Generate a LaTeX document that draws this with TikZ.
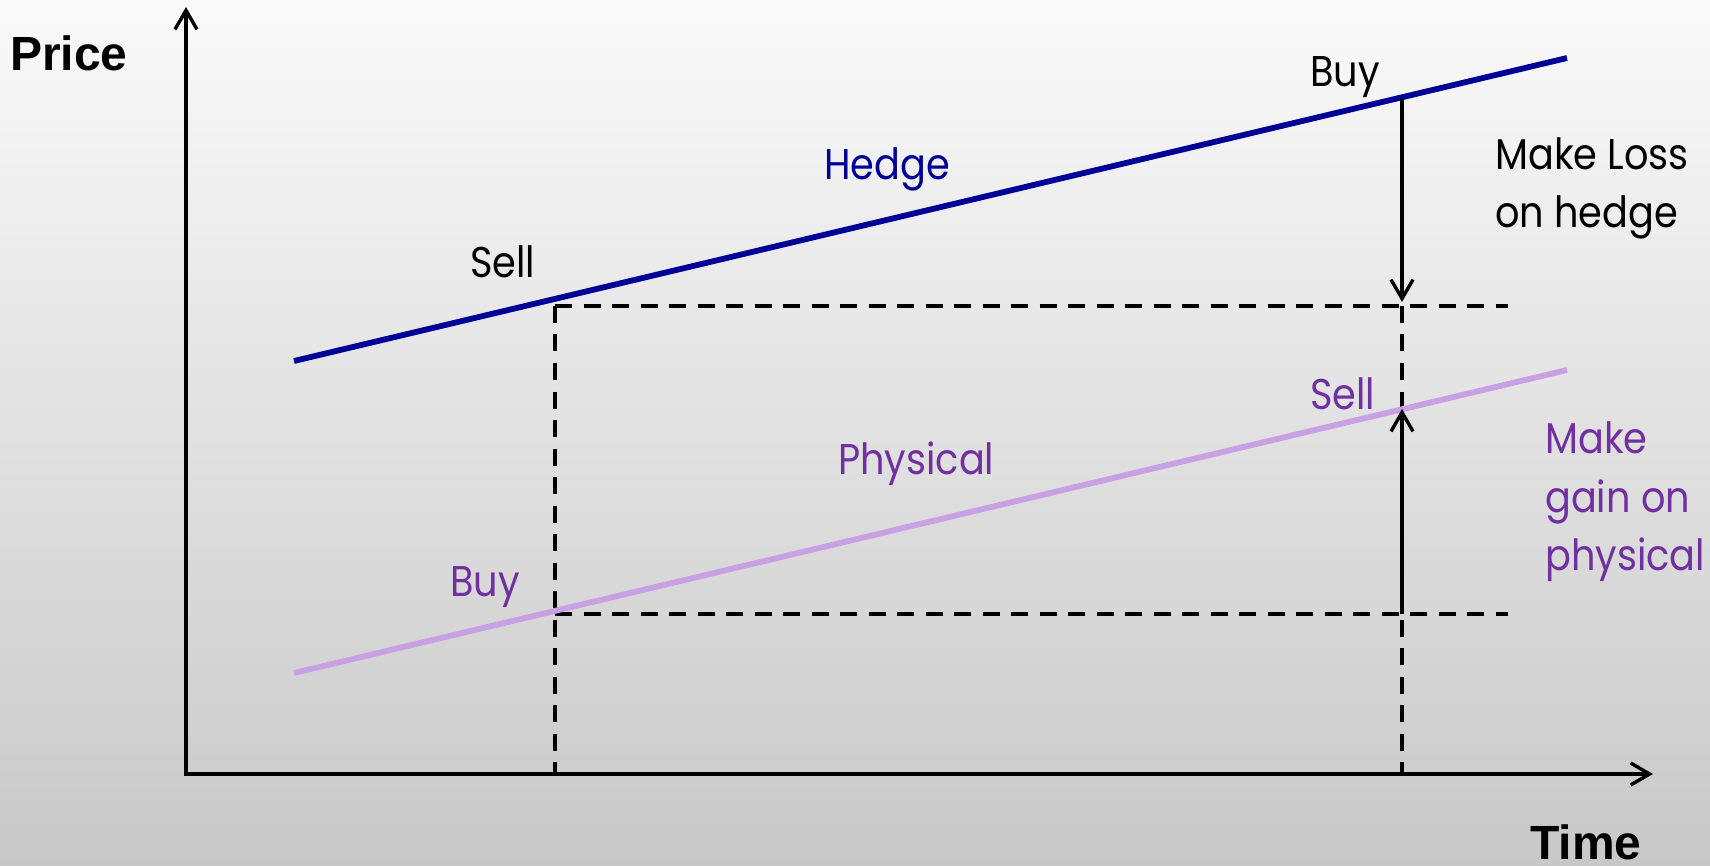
\documentclass[tikz,border=0pt]{standalone}
\usepackage{fontspec}
\setmainfont{Liberation Sans}
\newfontfamily\twfont[FakeStretch=0.89]{Poppins}
\usetikzlibrary{arrows.meta}
\definecolor{hedgeblue}{RGB}{0,0,150}
\definecolor{physline}{RGB}{200,160,228}
\definecolor{purpletext}{RGB}{112,48,160}
\definecolor{bgtop}{RGB}{250,250,250}
\definecolor{bgbottom}{RGB}{200,200,200}
\begin{document}
\begin{tikzpicture}[x=1pt,y=-1pt,
  barb/.style={-{Straight Barb[length=19pt,width=22pt,line width=3.4pt]}},
  axisline/.style={line width=3.4pt},
  guide/.style={line width=3.8pt, dash pattern=on 17pt off 11.5pt},
  hedgeline/.style={line width=5.8pt, hedgeblue},
  physicalline/.style={line width=5.8pt, physline},
  move/.style={line width=3.6pt, barb},
  lbl/.style={inner sep=0pt, anchor=base west, font=\twfont\fontsize{43}{58}\selectfont},
  axislbl/.style={inner sep=0pt, anchor=base west, text depth=0pt, font=\bfseries\fontsize{48}{50}\selectfont}]
\useasboundingbox (0,0) rectangle (1710,866);
\shade[top color=bgtop, bottom color=bgbottom] (0,0) rectangle (1710,866);
% key coordinates
\coordinate (O) at (186,774);
\coordinate (ytop) at (186,7);
\coordinate (xend) at (1653,774);
\coordinate (H0) at (294,361);
\coordinate (H1) at (1567,58);
\coordinate (P0) at (294,673);
\coordinate (P1) at (1567,370);
\coordinate (hsell) at (555,306);
\coordinate (hbuy) at (1402,98);
\coordinate (hbuyend) at (1402,302);
\coordinate (pbuy) at (555,614);
\coordinate (psell) at (1402,409);
\coordinate (pstart) at (1402,614);
\coordinate (uend) at (1508,306);
\coordinate (lend) at (1508,614);
\coordinate (tA) at (555,774);
\coordinate (tB) at (1402,774);
\coordinate (uB) at (1402,306);
% guides
\draw[guide] (hsell) -- (uend);
\draw[guide] (pbuy) -- (lend);
\draw[guide] (hsell) -- (tA);
\draw[guide] (uB) -- (tB);
% axes
\draw[axisline, {Straight Barb[length=19pt,width=22pt,line width=3.4pt]}-{Straight Barb[length=19pt,width=22pt,line width=3.4pt]}] (ytop) -- (O) -- (xend);
% price lines
\draw[hedgeline] (H0) -- (H1);
\draw[physicalline] (P0) -- (P1);
% moves
\draw[move] (hbuy) -- (hbuyend);
\draw[move] (pstart) -- (psell);
% labels
\node[axislbl] (price) at (10,71) {Price};
\node[axislbl] (time) at (1530,859) {Time};
\node[lbl] (buyH) at (1310,87) {Buy};
\node[lbl] (sellH) at (470,278) {Sell};
\node[lbl, text=hedgeblue] (hedge) at (824,180) {Hedge};
\node[lbl, text=purpletext] (physical) at (838,474) {Physical};
\node[lbl, text=purpletext] (sellP) at (1310,409) {Sell};
\node[lbl, text=purpletext] (buyP) at (450,596) {Buy};
\node[lbl] (loss1) at (1495,170) {Make Loss};
\node[lbl] (loss2) at (1495,228) {on hedge};
\node[lbl, text=purpletext] (gain1) at (1545,453) {Make};
\node[lbl, text=purpletext] (gain2) at (1545,512) {gain on};
\node[lbl, text=purpletext] (gain3) at (1545,570) {physical};
\end{tikzpicture}
\end{document}
